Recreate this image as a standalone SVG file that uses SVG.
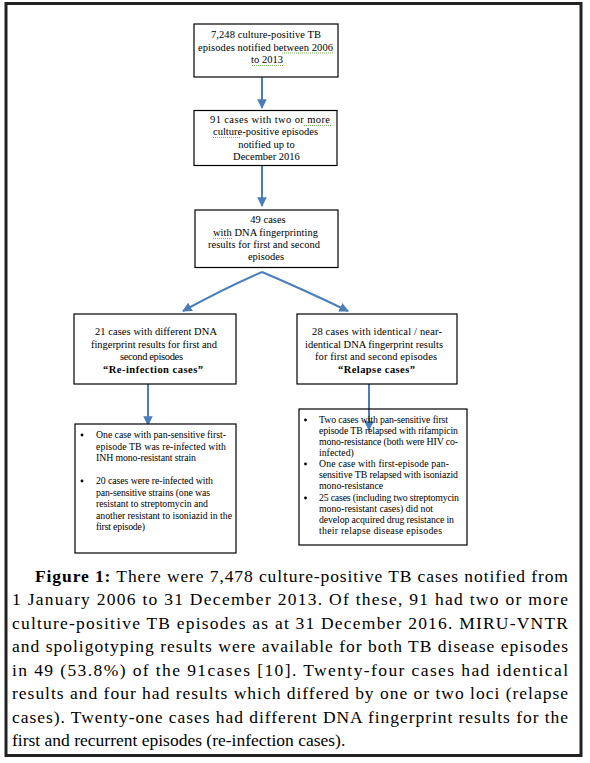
<svg xmlns="http://www.w3.org/2000/svg" width="590" height="763" viewBox="0 0 590 763">
<style>
.box{fill:#fff;stroke:#000;stroke-width:1.2}
.t{font-family:'Liberation Serif',serif;font-size:10.5px;fill:#000;text-anchor:middle}
.b{font-family:'Liberation Serif',serif;font-size:9.8px;fill:#000}
.cap{font-family:'Liberation Serif',serif;font-size:17.5px;fill:#000}
.arr{fill:none;stroke:#4a7ebb;stroke-width:2}
.sq{fill:none;stroke:#5a9a3a;stroke-width:0.8;stroke-dasharray:1 1}
</style>
<defs>
<marker id="ah" viewBox="0 0 10 10" refX="9" refY="5" markerWidth="4.8" markerHeight="4.8" orient="auto" markerUnits="strokeWidth">
<path d="M0,0 L10,5 L0,10 z" fill="#4a7ebb"/>
</marker>
</defs>
<rect x="0" y="0" width="590" height="763" fill="#fff"/>
<rect x="6" y="3.5" width="575" height="752" fill="none" stroke="#222" stroke-width="3"/>

<g id="connectors">
<path class="arr" d="M262,77 L262,108" marker-end="url(#ah)"/>
<path class="arr" d="M262,166 L262,206" marker-end="url(#ah)"/>
<path class="arr" d="M262,272 Q225,288 183,311" marker-end="url(#ah)"/>
<path class="arr" d="M262,272 Q300,288 348,311" marker-end="url(#ah)"/>
<path class="arr" d="M148,384 L148,425" marker-end="url(#ah)"/>
<path class="arr" d="M369,384 L369,430" marker-end="url(#ah)"/>
</g>

<g id="n1">
<rect class="box" x="194" y="24" width="144" height="53"/>
<text class="t" x="266" y="38" textLength="110" lengthAdjust="spacing">7,248 culture-positive TB</text>
<text class="t" x="265.5" y="50.5" textLength="135" lengthAdjust="spacing">episodes notified between 2006</text>
<text class="t" x="267" y="63">to 2013</text>
<path class="sq" d="M282,53 L334,53 M252,65.5 L283,65.5"/>
</g>

<g id="n2">
<rect class="box" x="194" y="110.5" width="143" height="55"/>
<text class="t" x="270" y="123" textLength="120" lengthAdjust="spacing">91 cases with two or more</text>
<text class="t" x="265.5" y="135" textLength="105" lengthAdjust="spacing">culture-positive episodes</text>
<text class="t" x="266.5" y="147.5">notified up to</text>
<text class="t" x="266.5" y="160">December 2016</text>
<path class="sq" d="M304,125.5 L331,125.5 M213,137.5 L240,137.5"/>
</g>

<g id="n3">
<rect class="box" x="195" y="210" width="143" height="57.5"/>
<text class="t" x="268" y="223">49 cases</text>
<text class="t" x="265.5" y="236" textLength="105" lengthAdjust="spacing">with DNA fingerprinting</text>
<text class="t" x="264" y="248" textLength="112" lengthAdjust="spacing">results for first and second</text>
<text class="t" x="266" y="260">episodes</text>
<path class="sq" d="M213,238.5 L232,238.5"/>
</g>

<g id="n4">
<rect class="box" x="74" y="314" width="162" height="70"/>
<text class="t" x="156" y="335" textLength="122" lengthAdjust="spacing">21 cases with different DNA</text>
<text class="t" x="154" y="348" textLength="126" lengthAdjust="spacing">fingerprint results for first and</text>
<text class="t" x="151.5" y="360" textLength="63" lengthAdjust="spacing">second episodes</text>
<text class="t" x="153" y="373" font-weight="bold" textLength="100" lengthAdjust="spacing">“Re-infection cases”</text>
</g>

<g id="n5">
<rect class="box" x="297" y="314" width="160" height="70"/>
<text class="t" x="377" y="335" textLength="130" lengthAdjust="spacing">28 cases with identical / near-</text>
<text class="t" x="374" y="348" textLength="138" lengthAdjust="spacing">identical DNA fingerprint results</text>
<text class="t" x="376" y="360" textLength="122" lengthAdjust="spacing">for first and second episodes</text>
<text class="t" x="376.5" y="373" font-weight="bold" textLength="77" lengthAdjust="spacing">“Relapse cases”</text>
</g>

<g id="n6">
<rect class="box" x="75" y="424" width="161" height="129"/>
<circle cx="82" cy="435" r="1.4" fill="#000"/>
<text class="b" x="96" y="438" textLength="130" lengthAdjust="spacing">One case with pan-sensitive first-</text>
<text class="b" x="96" y="449.5" textLength="130" lengthAdjust="spacing">episode TB was re-infected with</text>
<text class="b" x="96" y="461" textLength="100" lengthAdjust="spacing">INH mono-resistant strain</text>
<circle cx="82" cy="481" r="1.4" fill="#000"/>
<text class="b" x="96" y="484" textLength="117" lengthAdjust="spacing">20 cases were re-infected with</text>
<text class="b" x="96" y="495.5" textLength="114" lengthAdjust="spacing">pan-sensitive strains (one was</text>
<text class="b" x="96" y="507" textLength="112" lengthAdjust="spacing">resistant to streptomycin and</text>
<text class="b" x="96" y="518.5" textLength="136" lengthAdjust="spacing">another resistant to isoniazid in the</text>
<text class="b" x="96" y="530" textLength="49" lengthAdjust="spacing">first episode)</text>
</g>

<g id="n7">
<rect class="box" x="299" y="409" width="168" height="136" fill-opacity="0"/>
<circle cx="305.5" cy="420" r="1.4" fill="#000"/>
<text class="b" x="319" y="423" textLength="129" lengthAdjust="spacing">Two cases with pan-sensitive first</text>
<text class="b" x="319" y="434" textLength="139" lengthAdjust="spacing">episode TB relapsed with rifampicin</text>
<text class="b" x="319" y="445" textLength="139" lengthAdjust="spacing">mono-resistance (both were HIV co-</text>
<text class="b" x="319" y="455.5">infected)</text>
<circle cx="305.5" cy="464" r="1.4" fill="#000"/>
<text class="b" x="319" y="467" textLength="130" lengthAdjust="spacing">One case with first-episode pan-</text>
<text class="b" x="319" y="478" textLength="139" lengthAdjust="spacing">sensitive TB relapsed with isoniazid</text>
<text class="b" x="319" y="489">mono-resistance</text>
<circle cx="305.5" cy="498" r="1.4" fill="#000"/>
<text class="b" x="319" y="501" textLength="140" lengthAdjust="spacing">25 cases (including two streptomycin</text>
<text class="b" x="319" y="512" textLength="114" lengthAdjust="spacing">mono-resistant cases) did not</text>
<text class="b" x="319" y="523" textLength="135" lengthAdjust="spacing">develop acquired drug resistance in</text>
<text class="b" x="319" y="534" textLength="123" lengthAdjust="spacing">their relapse disease episodes</text>
</g>

<g id="caption">
<text class="cap" x="35" y="581.5" textLength="533" lengthAdjust="spacing"><tspan font-weight="bold">Figure 1:</tspan> There were 7,478 culture-positive TB cases notified from</text>
<text class="cap" x="12" y="605" textLength="556" lengthAdjust="spacing">1 January 2006 to 31 December 2013. Of these, 91 had two or more</text>
<text class="cap" x="12" y="628.5" textLength="556" lengthAdjust="spacing">culture-positive TB episodes as at 31 December 2016. MIRU-VNTR</text>
<text class="cap" x="12" y="652" textLength="556" lengthAdjust="spacing">and spoligotyping results were available for both TB disease episodes</text>
<text class="cap" x="12" y="675.5" textLength="556" lengthAdjust="spacing">in 49 (53.8%) of the 91cases [10]. Twenty-four cases had identical</text>
<text class="cap" x="12" y="699" textLength="556" lengthAdjust="spacing">results and four had results which differed by one or two loci (relapse</text>
<text class="cap" x="12" y="722.5" textLength="556" lengthAdjust="spacing">cases). Twenty-one cases had different DNA fingerprint results for the</text>
<text class="cap" x="12" y="746">first and recurrent episodes (re-infection cases).</text>
</g>
</svg>
